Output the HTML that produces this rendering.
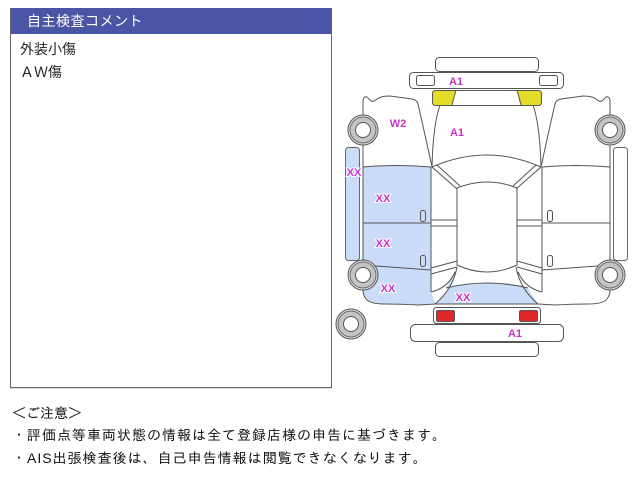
<!DOCTYPE html>
<html><head><meta charset="utf-8"><style>
html,body{margin:0;padding:0;background:#fff}
body{width:640px;height:480px;position:relative;overflow:hidden}
.box{position:absolute;left:10px;top:8px;width:322px;height:380px;border:1px solid #666;border-top:none;box-sizing:border-box;background:#fff}
.hd{height:26px;background:#4b55a5;color:#fff;font:14px/26px "Liberation Sans","Noto Sans CJK JP",sans-serif;padding-left:16px;letter-spacing:0.5px}
.ct{padding:4px 0 0 9px;font:14px/23px "Liberation Sans","Noto Sans CJK JP",sans-serif;color:#222}
.shadow{position:absolute;left:10px;top:388px;width:322px;height:1px;background:#ddd}
.nt{position:absolute;left:12px;font:14px/16px "Liberation Sans","IPAGothic",sans-serif;color:#111;white-space:nowrap}
</style></head><body>
<div class="box"><div class="hd">自主検査コメント</div><div class="ct">外装小傷<br>ＡＷ傷</div></div>
<div class="shadow"></div>
<div class="nt" style="top:405px">＜ご注意＞</div>
<div class="nt" style="top:427px;letter-spacing:1px">・評価点等車両状態の情報は全て登録店様の申告に基づきます。</div>
<div class="nt" style="top:450px;letter-spacing:1px">・AIS出張検査後は、自己申告情報は閲覧できなくなります。</div>
<svg width="640" height="480" style="position:absolute;left:0;top:0">
<defs>
<g id="wh"><circle r="15" fill="#e4e4e4" stroke="#555"/><circle r="13" fill="#c4c4c4" stroke="#666"/><circle r="7.5" fill="#fff" stroke="#555"/></g>
</defs>
<!-- fills -->
<path d="M363,167 Q397,164 431,167 L431,292 Q433,298 436,304 L418,305 Q400,304 385,304 Q370,304 366,299 Q363,295 363,290 Z" fill="#cadcf7"/>
<path d="M457,267 Q453,289 435,304 L538,304 L528,288 Q487,278 446,288 Z" fill="#cadcf7"/>
<path d="M435,90 L456,90 L452,105 L435,105 Q432,105 432,102 L432,93 Q432,90 435,90Z" fill="#e4dc28"/>
<path d="M517,90 L538,90 Q541,90 541,93 L541,102 Q541,105 538,105 L521,105 Z" fill="#e4dc28"/>
<g fill="none" stroke="#555" stroke-width="1">
<rect x="435.5" y="57.5" width="103" height="14" rx="4"/>
<rect x="409.5" y="72.5" width="154" height="16" rx="4"/>
<rect x="416.5" y="75.5" width="18" height="10" rx="2"/>
<rect x="539.5" y="75.5" width="18" height="10" rx="2"/>
<rect x="432.5" y="90.5" width="109" height="15" rx="3"/>
<line x1="456" y1="90" x2="452" y2="105"/>
<line x1="517" y1="90" x2="521" y2="105"/>
<path d="M363,167 L363,100 Q364,96 367,97 L371,101 Q374,102 377,99 Q381,96 390,96 L412,99 Q417,100 418,104 Q424,130 432,167"/>
<path d="M610,167 L610,100 Q609,96 606,97 L602,101 Q599,102 596,99 Q592,96 583,96 L561,99 Q556,100 555,104 Q549,130 541,167"/>
<path d="M440,105 Q433,125 432,167"/>
<path d="M533,105 Q540,125 541,167"/>
<path d="M432,167 Q487,143 541,167"/>
<path d="M457,188 Q487,176 517,188 L517,265 Q487,279 457,265 Z"/>
<path d="M432,167 L457,189 M437,165 L460,186 M541,167 L516,189 M536,165 L513,186"/>
<path d="M363,167 Q397,164 431,167 M363,223 L431,223 M363,259 Q366,265 376,266 L431,270 M431,167 L431,292 M363,167 L363,292"/>
<path d="M542,167 Q576,164 610,167 M542,223 L610,223 M610,259 Q607,265 597,266 L542,270 M542,167 L542,292 M610,167 L610,292"/>
<path d="M431,220 L457,220 M431,226 L457,226 M431,268 L457,261 M431,274 L457,267"/>
<path d="M517,220 L542,220 M517,226 L542,226 M542,268 L517,261 M542,274 L517,267"/>
<path d="M457,267 Q453,289 435,304 M455,272 Q448,288 431,292 M516,267 Q520,289 538,304 M518,272 Q525,288 542,292"/>
<path d="M446,288 Q487,278 528,288"/>
<path d="M363,290 Q363,295 366,299 Q370,304 385,304 Q400,304 418,305 L436,304 L538,304 L555,305 Q573,304 588,304 Q603,304 607,299 Q610,295 610,290"/>
<rect x="420.5" y="210.5" width="5" height="11" rx="2"/>
<rect x="420.5" y="255.5" width="5" height="11" rx="2"/>
<rect x="547.5" y="210.5" width="5" height="11" rx="2"/>
<rect x="547.5" y="255.5" width="5" height="11" rx="2"/>
<rect x="345.5" y="147.5" width="14" height="113" rx="3" fill="#cadcf7" stroke="#666"/>
<rect x="613.5" y="147.5" width="14" height="113" rx="3" fill="#fff" stroke="#666"/>
<rect x="433.5" y="307.5" width="107" height="16" rx="3"/>
<rect x="436.5" y="310.5" width="18" height="11" rx="1.5" fill="#e02828"/>
<rect x="519.5" y="310.5" width="18" height="11" rx="1.5" fill="#e02828"/>
<rect x="410.5" y="324.5" width="153" height="17" rx="5"/>
<rect x="435.5" y="342.5" width="103" height="14" rx="4"/>
</g>
<use href="#wh" x="363" y="130"/>
<use href="#wh" x="610" y="130"/>
<use href="#wh" x="363" y="275"/>
<use href="#wh" x="610" y="275"/>
<use href="#wh" x="351" y="324"/>
<g font-family="Liberation Sans, sans-serif" font-weight="bold" font-size="11" fill="#c832c8" text-anchor="middle" stroke="#fff" stroke-width="2" paint-order="stroke">
<text x="456" y="85">A1</text>
<text x="457" y="136">A1</text>
<text x="398" y="127">W2</text>
<text x="354" y="176">XX</text>
<text x="383" y="202">XX</text>
<text x="383" y="247">XX</text>
<text x="388" y="292">XX</text>
<text x="463" y="301">XX</text>
<text x="515" y="337">A1</text>
</g>
</svg>
</body></html>
